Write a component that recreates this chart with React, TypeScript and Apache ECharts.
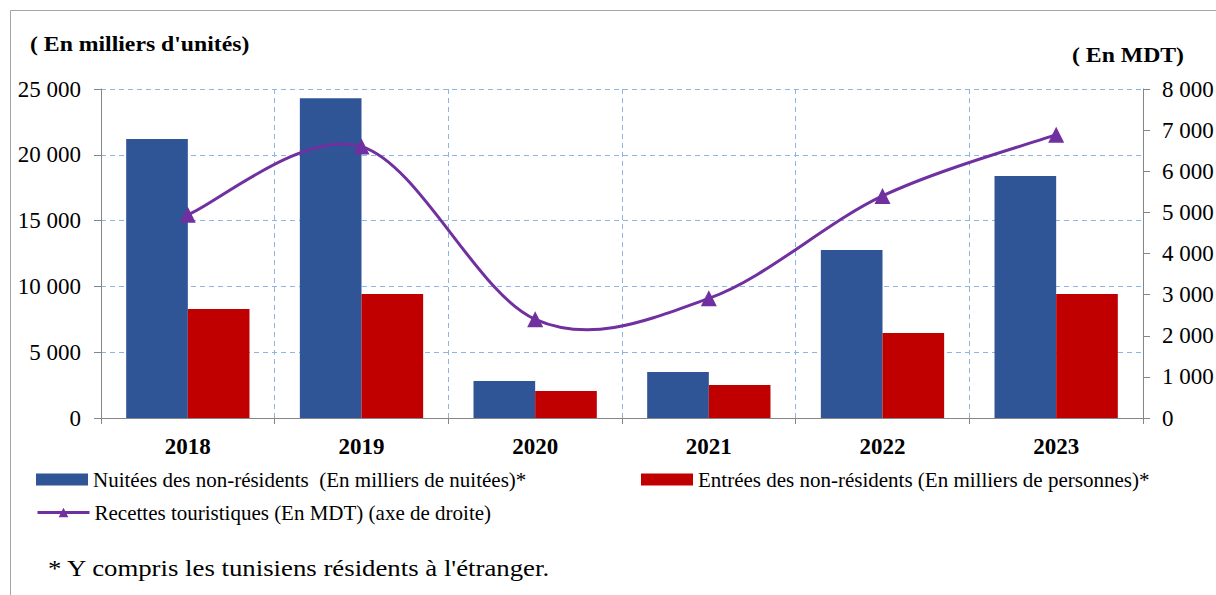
import React, { useEffect, useRef } from "react";
import * as echarts from "echarts";

const years = ["2018", "2019", "2020", "2021", "2022", "2023"];
const nuitees = [21200, 24300, 2810, 3500, 12770, 18390];
const entrees = [8280, 9420, 2050, 2510, 6460, 9420];
const recettes = [4940, 6600, 2400, 2910, 5400, 6890];

const leftTicks = { min: 0, max: 25000, interval: 5000 };
const rightTicks = { min: 0, max: 8000, interval: 1000 };

const nameNuitees = "Nuitées des non-résidents  (En milliers de nuitées)*";
const nameEntrees = "Entrées des non-résidents (En milliers de personnes)*";
const nameRecettes = "Recettes touristiques (En MDT) (axe de droite)";
const titleLeft = "( En milliers d'unités)";
const titleRight = "( En MDT)";
const footnote = "* Y compris les tunisiens résidents à l'étranger.";

const FONT = "'Liberation Serif'";
const PURPLE = "#7030A0";

const fmt = (v: number) => String(v).replace(/\B(?=(\d{3})+(?!\d))/g, " ");

export default function App() {
  const ref = useRef<HTMLDivElement>(null);
  useEffect(() => {
    if (!ref.current) return;
    const chart = echarts.init(ref.current, undefined, { renderer: "svg" });
    const legendBase = {
      orient: "horizontal" as const,
      padding: 0,
      itemWidth: 52,
      itemHeight: 12,
      textStyle: { fontFamily: FONT, fontSize: 21, color: "#000", lineHeight: 20 },
      selectedMode: false,
    };
    chart.setOption({
      animation: false,
      backgroundColor: "#fff",
      textStyle: { fontFamily: FONT },
      grid: { left: 101, right: 73, top: 89, bottom: 177, outerBoundsMode: "none", containLabel: false },
      legend: [
        { ...legendBase, left: 36, top: 469, data: [{ name: nameNuitees, icon: "rect" }] },
        { ...legendBase, left: 641, top: 469, data: [{ name: nameEntrees, icon: "rect" }] },
        {
          ...legendBase,
          left: 36,
          top: 502,
          lineStyle: { color: PURPLE, width: 3, opacity: 1 },
          data: [{ name: nameRecettes }],
        },
      ],
      xAxis: {
        type: "category",
        data: years,
        boundaryGap: true,
        axisLine: { show: true, lineStyle: { color: "#868686", width: 1 } },
        axisTick: { show: true, length: 6, lineStyle: { color: "#868686" } },
        axisLabel: { fontFamily: FONT, fontSize: 23, fontWeight: "bold", color: "#000", margin: 17 },
        splitLine: { show: true, lineStyle: { color: "#8EB4E3", type: [5, 4], width: 1 } },
      },
      yAxis: [
        {
          type: "value",
          ...leftTicks,
          position: "left",
          axisLine: { show: true, lineStyle: { color: "#868686" } },
          axisTick: { show: true, length: 7, lineStyle: { color: "#868686" } },
          axisLabel: { fontFamily: FONT, fontSize: 23, color: "#000", margin: 20, formatter: fmt },
          splitLine: { show: true, lineStyle: { color: "#8EB4E3", type: [5, 4], width: 1 } },
        },
        {
          type: "value",
          ...rightTicks,
          position: "right",
          axisLine: { show: true, lineStyle: { color: "#868686" } },
          axisTick: { show: true, length: 7, lineStyle: { color: "#868686" } },
          axisLabel: { fontFamily: FONT, fontSize: 23, color: "#000", margin: 19, formatter: fmt },
          splitLine: { show: false },
        },
      ],
      series: [
        {
          name: nameNuitees,
          type: "bar",
          data: nuitees,
          yAxisIndex: 0,
          barGap: "0%",
          barCategoryGap: "29%",
          itemStyle: { color: "#2F5597" },
        },
        {
          name: nameEntrees,
          type: "bar",
          data: entrees,
          yAxisIndex: 0,
          barGap: "0%",
          barCategoryGap: "29%",
          itemStyle: { color: "#C00000" },
        },
        {
          type: "custom",
          name: "curve",
          yAxisIndex: 1,
          silent: true,
          z: 4,
          data: recettes.map((v, i) => [i, v]),
          encode: { x: 0, y: 1 },
          renderItem: (params: any, api: any) => {
            if (params.dataIndex !== 0) return { type: "group", children: [] };
            const p = recettes.map((v, i) => api.coord([i, v]));
            const n = p.length;
            const at = (k: number) => p[Math.max(0, Math.min(n - 1, k))];
            let d = `M${p[0][0]},${p[0][1]}`;
            const t = 1 / 6;
            for (let i = 0; i < n - 1; i++) {
              const a = at(i - 1), b = at(i), c = at(i + 1), e = at(i + 2);
              const c1 = [b[0] + (c[0] - a[0]) * t, b[1] + (c[1] - a[1]) * t];
              const c2 = [c[0] - (e[0] - b[0]) * t, c[1] - (e[1] - b[1]) * t];
              d += ` C${c1[0]},${c1[1]} ${c2[0]},${c2[1]} ${c[0]},${c[1]}`;
            }
            return {
              type: "path",
              shape: { pathData: d },
              style: { fill: "none", stroke: PURPLE, lineWidth: 3 },
            };
          },
        },
        {
          name: nameRecettes,
          type: "line",
          data: recettes,
          yAxisIndex: 1,
          symbol: "triangle",
          symbolSize: 16,
          lineStyle: { color: PURPLE, width: 3, opacity: 0 },
          itemStyle: { color: PURPLE },
          z: 5,
        },
      ],
      graphic: [
        {
          type: "rect",
          shape: { x: 10.5, y: 10.5, width: 1400, height: 800 },
          style: { fill: "none", stroke: "#A6A6A6", lineWidth: 1 },
          silent: true,
          z: -10,
        },
        {
          type: "text",
          x: 30,
          y: 44,
          scaleX: 1.13,
          style: {
            text: titleLeft,
            fontFamily: FONT,
            fontSize: 21,
            fontWeight: "bold",
            fill: "#000",
            verticalAlign: "middle",
          },
        },
        {
          type: "text",
          x: 1072,
          y: 55,
          scaleX: 1.13,
          style: {
            text: titleRight,
            fontFamily: FONT,
            fontSize: 21,
            fontWeight: "bold",
            fill: "#000",
            verticalAlign: "middle",
          },
        },
        {
          type: "text",
          x: 48,
          y: 568,
          scaleX: 1.165,
          style: { text: footnote, fontFamily: FONT, fontSize: 23, fill: "#000", verticalAlign: "middle" },
        },
      ],
    });
    return () => chart.dispose();
  }, []);
  return (
    <div
      ref={ref}
      style={{ position: "fixed", left: 0, top: 0, width: 1216, height: 595, background: "#fff" }}
    />
  );
}
